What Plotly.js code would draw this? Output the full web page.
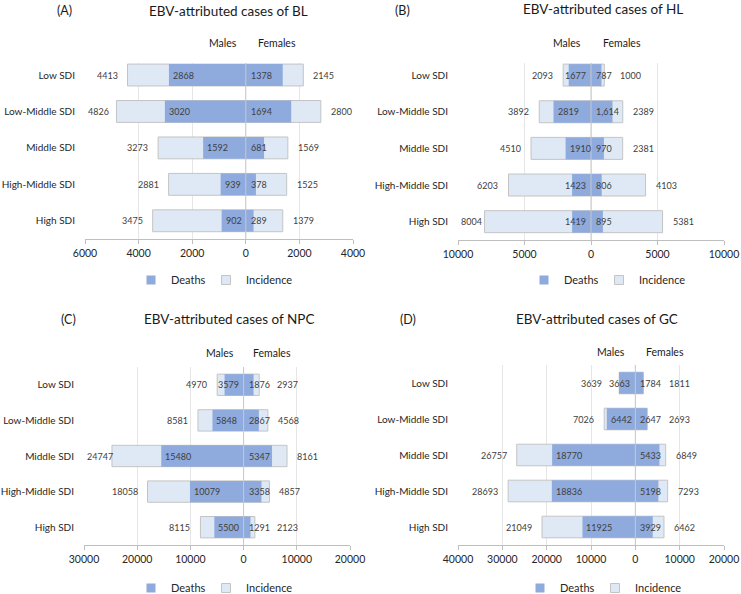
<!DOCTYPE html>
<html>
<head>
<meta charset="utf-8">
<script src="https://cdn.plot.ly/plotly-3.0.1.min.js"></script>
<style>
  html, body { margin: 0; padding: 0; background: #fff; overflow: hidden; }
  #chart { width: 741px; height: 610px; }
</style>
</head>
<body>
<div id="chart"></div>
<script>
// SDI groups, top to bottom
const sdiGroups = ["Low SDI", "Low-Middle SDI", "Middle SDI", "High-Middle SDI", "High SDI"];

// (A) Burkitt lymphoma
const blMaleIncidence = [4413, 4826, 3273, 2881, 3475];
const blMaleDeaths = [2868, 3020, 1592, 939, 902];
const blFemaleIncidence = [2145, 2800, 1569, 1525, 1379];
const blFemaleDeaths = [1378, 1694, 681, 378, 289];

// (B) Hodgkin lymphoma
const hlMaleIncidence = [2093, 3892, 4510, 6203, 8004];
const hlMaleDeaths = [1677, 2819, 1910, 1423, 1419];
const hlFemaleIncidence = [1000, 2389, 2381, 4103, 5381];
const hlFemaleDeaths = [787, 1614, 970, 806, 895];
const hlFemaleDeathsText = ["787", "1,614", "970", "806", "895"];

// (C) nasopharyngeal carcinoma
const npcMaleIncidence = [4970, 8581, 24747, 18058, 8115];
const npcMaleDeaths = [3579, 5848, 15480, 10079, 5500];
const npcFemaleIncidence = [2937, 4568, 8161, 4857, 2123];
const npcFemaleDeaths = [1876, 2867, 5347, 3358, 1291];

// (D) gastric cancer
const gcMaleIncidence = [3639, 7026, 26757, 28693, 21049];
const gcMaleDeaths = [3663, 6442, 18770, 18836, 11925];
const gcFemaleIncidence = [1811, 2693, 6849, 7293, 6462];
const gcFemaleDeaths = [1784, 2647, 5433, 5198, 3929];

// x-axis ticks per panel
const blTicks = [-6000, -4000, -2000, 0, 2000, 4000];
const hlTicks = [-10000, -5000, 0, 5000, 10000];
const npcTicks = [-30000, -20000, -10000, 0, 10000, 20000];
const gcTicks = [-40000, -30000, -20000, -10000, 0, 10000, 20000];

// canvas is a bit taller than the window so the bottom legends are not pushed up
const W = 741, H = 610;
const FONT = "Lato, 'Open Sans', sans-serif";
const deathColor = "#8faadc";
const incColor = "#dfe9f5";
const edgeColor = "#c4c4c4";
const textColor = "#404040";
const labelSize = 9;

const panels = [
  { n: 1, tag: "(A)", title: "EBV-attributed cases of BL",
    mInc: blMaleIncidence, mDeath: blMaleDeaths, fInc: blFemaleIncidence, fDeath: blFemaleDeaths,
    ticks: blTicks, px: [85, 353], py: [63, 239], yRange: [4.5, -0.33],
    tagPos: [64, 11], titlePos: [229, 11], sexY: 43, malesX: 223, femalesX: 277, legendX: 131, legendY: 280 },
  { n: 2, tag: "(B)", title: "EBV-attributed cases of HL",
    mInc: hlMaleIncidence, mDeath: hlMaleDeaths, fInc: hlFemaleIncidence, fDeath: hlFemaleDeaths,
    fDeathText: hlFemaleDeathsText,
    ticks: hlTicks, px: [458, 724], py: [63, 240], yRange: [4.5, -0.33],
    tagPos: [402, 10], titlePos: [603, 9], sexY: 43, malesX: 567, femalesX: 622, legendX: 524, legendY: 280 },
  { n: 3, tag: "(C)", title: "EBV-attributed cases of NPC",
    mInc: npcMaleIncidence, mDeath: npcMaleDeaths, fInc: npcFemaleIncidence, fDeath: npcFemaleDeaths,
    ticks: npcTicks, px: [84, 350], py: [367, 545], yRange: [4.5, -0.5],
    tagPos: [68, 319], titlePos: [229, 319], sexY: 353, malesX: 220, femalesX: 272, legendX: 131, legendY: 588 },
  { n: 4, tag: "(D)", title: "EBV-attributed cases of GC",
    mInc: gcMaleIncidence, mDeath: gcMaleDeaths, fInc: gcFemaleIncidence, fDeath: gcFemaleDeaths,
    ticks: gcTicks, px: [458, 724], py: [365, 545], yRange: [4.5, -0.5],
    tagPos: [408, 319], titlePos: [597, 319], sexY: 352, malesX: 611, femalesX: 665, legendX: 520, legendY: 588 }
];

const traces = [];
const annotations = [];
const shapes = [];
const layout = {
  width: W, height: H,
  margin: { t: 0, r: 0, b: 0, l: 0 },
  paper_bgcolor: "#ffffff",
  plot_bgcolor: "#ffffff",
  font: { family: FONT, color: textColor, size: 10 },
  barmode: "overlay",
  annotations: annotations,
  shapes: shapes
};

const neg = arr => arr.map(v => -v);
// rough width of a number label in px
const textWidth = s => s.replace(/,/g, "").length * labelSize * 0.58 + (s.split(",").length - 1) * 2.5;

panels.forEach(p => {
  const sfx = p.n === 1 ? "" : String(p.n);
  const xa = "x" + sfx, ya = "y" + sfx;
  const legendId = "legend" + sfx;
  const r0 = p.ticks[0], r1 = p.ticks[p.ticks.length - 1];
  const ppu = (p.px[1] - p.px[0]) / (r1 - r0);

  const bar = (x, color, line) => ({
    type: "bar", orientation: "h",
    x: x, y: sdiGroups, xaxis: xa, yaxis: ya,
    width: 0.6,
    marker: { color: color, line: line },
    showlegend: false,
    hoverinfo: "skip"
  });

  const incLine = { color: edgeColor, width: 1 };
  const deathLine = { color: deathColor, width: 0 };
  traces.push(bar(neg(p.mInc), incColor, incLine));
  traces.push(bar(p.fInc, incColor, incLine));
  traces.push(bar(neg(p.mDeath), deathColor, deathLine));
  traces.push(bar(p.fDeath, deathColor, deathLine));

  // legend entries (small square swatches)
  const key = (name, color, line, lw) => {
    const t = {
      type: "scatter", mode: "markers", name: name,
      x: [null], y: [null], xaxis: xa, yaxis: ya,
      marker: { symbol: "square", size: 9, color: color, line: line },
      legend: legendId, showlegend: true, hoverinfo: "skip"
    };
    if (lw) t.legendwidth = lw;
    return t;
  };
  traces.push(key("Deaths", deathColor, { color: deathColor, width: 0 }, 30));
  traces.push(key("Incidence", incColor, { color: edgeColor, width: 1 }));

  layout["xaxis" + sfx] = {
    domain: [p.px[0] / W, p.px[1] / W],
    anchor: ya,
    range: [r0, r1],
    tickvals: p.ticks,
    ticktext: p.ticks.map(v => String(Math.abs(v))),
    showgrid: true, gridcolor: "#e6e6e6", gridwidth: 1,
    zeroline: false,
    showline: true, linecolor: "#bfbfbf", linewidth: 1,
    ticks: "outside", ticklen: 4, tickcolor: "#bfbfbf",
    tickfont: { family: FONT, size: 10.5, color: "#262626" },
    fixedrange: true
  };
  layout["yaxis" + sfx] = {
    domain: [1 - p.py[1] / H, 1 - p.py[0] / H],
    anchor: xa,
    type: "category",
    range: p.yRange,
    showgrid: false, zeroline: false, showline: false,
    ticks: "",
    ticklabelstandoff: 9,
    tickfont: { family: FONT, size: 10, color: "#262626" },
    fixedrange: true
  };
  layout[legendId] = {
    orientation: "h",
    x: p.legendX / W, y: 1 - p.legendY / H,
    xanchor: "left", yanchor: "middle",
    font: { family: FONT, size: 11, color: "#262626" },
    bgcolor: "rgba(0,0,0,0)",
    itemwidth: 30,
    traceorder: "normal"
  };

  // zero divider on top of the bars
  shapes.push({
    type: "line", xref: xa, yref: ya + " domain",
    x0: 0, x1: 0, y0: 0, y1: 1,
    line: { color: "#c8c8c8", width: 1 }, layer: "above"
  });

  // panel texts
  const paperText = (text, pos, size) => ({
    xref: "paper", yref: "paper",
    x: pos[0] / W, y: 1 - pos[1] / H,
    xanchor: "center", yanchor: "middle",
    text: text, showarrow: false,
    font: { family: FONT, size: size, color: "#1a1a1a" }
  });
  annotations.push(paperText(p.tag, p.tagPos, 12.5));
  annotations.push(paperText(p.title, p.titlePos, 13.5));
  annotations.push(paperText("Males", [p.malesX, p.sexY], 10.5));
  annotations.push(paperText("Females", [p.femalesX, p.sexY], 10.5));

  // value labels
  const label = (x, y, text, anchor, shift) => ({
    xref: xa, yref: ya, x: x, y: y,
    xanchor: anchor, yanchor: "middle", xshift: shift,
    text: text, showarrow: false,
    font: { family: FONT, size: labelSize, color: textColor }
  });
  const minLeft = r0 * ppu + 5; // px from the zero line, keeps labels inside the panel
  sdiGroups.forEach((g, i) => {
    // males: deaths label at the bar end, or against zero if the bar is short
    const mdText = String(p.mDeath[i]);
    const mdW = textWidth(mdText);
    const mdPx = p.mDeath[i] * ppu;
    let deathLeft;
    if (mdPx >= mdW + 4) {
      annotations.push(label(-p.mDeath[i], g, mdText, "left", 2));
      deathLeft = -mdPx + 2;
    } else {
      annotations.push(label(0, g, mdText, "right", -3));
      deathLeft = -3 - mdW;
    }
    const miText = String(p.mInc[i]);
    const miW = textWidth(miText);
    const miPx = p.mInc[i] * ppu;
    let right = Math.min(-miPx - 8, deathLeft - 7);
    if (right - miW < minLeft) right = minLeft + miW;
    annotations.push(label(-p.mInc[i], g, miText, "right", right + miPx));

    // females: deaths label next to zero, incidence after the bar end
    const fdText = p.fDeathText ? p.fDeathText[i] : String(p.fDeath[i]);
    annotations.push(label(0, g, fdText, "left", 3));
    const deathRight = 3 + textWidth(fdText);
    const fiPx = p.fInc[i] * ppu;
    const left = Math.max(fiPx + 8, deathRight + 8);
    annotations.push(label(p.fInc[i], g, String(p.fInc[i]), "left", left - fiPx));
  });
});

Plotly.newPlot("chart", traces, layout, { displayModeBar: false, staticPlot: true });
</script>
</body>
</html>
